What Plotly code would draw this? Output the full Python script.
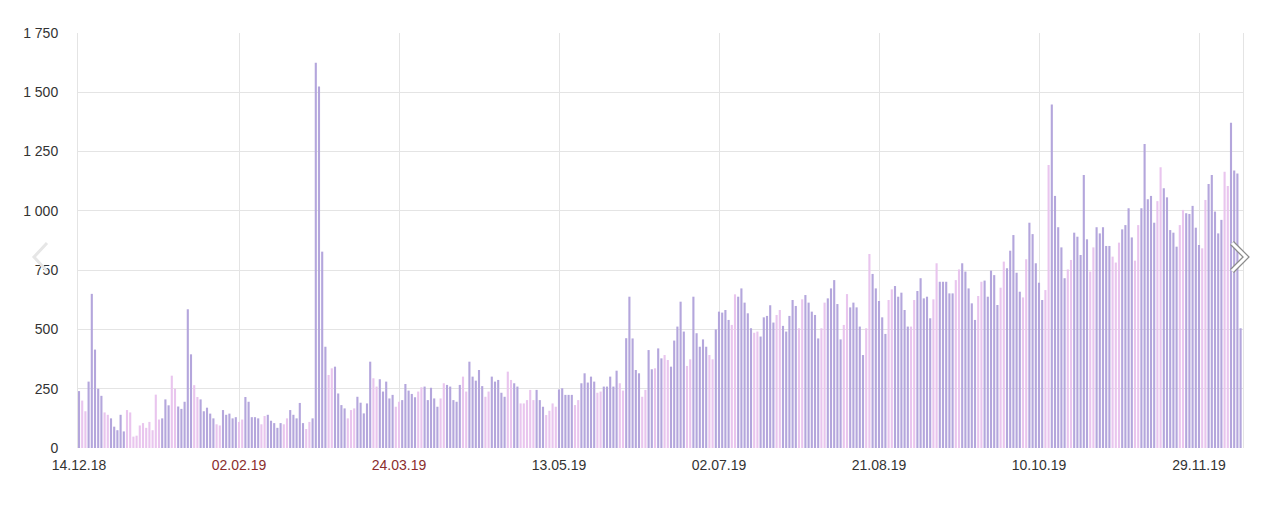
import pandas as pd
import plotly.graph_objects as go

start_date = "2018-12-14"

values = [
    240, 200, 155, 280, 650, 415, 250, 220, 150, 140, 125, 90, 75, 140,
    70, 160, 150, 48, 52, 95, 105, 85, 110, 75,
    225, 120, 125, 205, 180, 305, 250, 175, 165, 195,
    585, 395, 265, 215, 205, 155, 170, 145, 125, 100,
    95, 160, 140, 145, 125, 130, 110, 120, 215, 195,
    130, 130, 125, 100, 135, 140, 115, 105, 85, 105,
    100, 125, 160, 140, 125, 190, 105, 80, 110, 125,
    1625, 1524, 828, 427, 308, 336, 343, 230, 181, 167,
    125, 160, 167, 216, 191, 146, 188, 364, 294, 259,
    290, 238, 280, 209, 224, 174, 195, 202, 270, 242,
    228, 214, 238, 256, 259, 202, 254, 209, 174, 209,
    273, 266, 259, 202, 195, 266, 301, 238, 364, 301,
    284, 329, 261, 216, 238, 301, 280, 287, 233, 216,
    322, 287, 273, 259, 188, 188, 202, 245, 202, 245,
    202, 174, 139, 157, 188, 174, 247, 252, 224, 224,
    224, 181, 202, 273, 315, 276, 301, 280, 233, 238,
    259, 259, 301, 259, 326, 273, 242, 463, 638, 462,
    329, 315, 216, 245, 413, 332, 336, 420, 378, 392,
    371, 343, 453, 512, 617, 491, 346, 374, 638, 484,
    427, 458, 427, 392, 374, 500, 575, 571, 582, 540,
    519, 648, 638, 673, 613, 568, 505, 486, 491, 470,
    551, 557, 602, 529, 561, 582, 515, 491, 557, 624,
    599, 505, 627, 645, 613, 575, 561, 462, 505, 613,
    631, 673, 708, 607, 458, 519, 649, 593, 613, 593,
    512, 392, 505, 818, 734, 673, 620, 551, 481, 624,
    669, 683, 638, 655, 582, 512, 512, 624, 662, 716,
    631, 638, 547, 627, 779, 701, 701, 701, 652, 652,
    708, 753, 779, 744, 673, 610, 540, 641, 701, 706,
    638, 748, 729, 603, 676, 786, 758, 832, 898, 739,
    659, 635, 796, 950, 902, 779, 697, 624, 666, 1193,
    1449, 1063, 931, 846, 716, 753, 793, 908, 891, 814,
    1151, 880, 744, 846, 931, 905, 931, 852, 852, 807,
    782, 866, 922, 940, 1011, 888, 790, 940, 1011, 1282,
    1049, 1063, 950, 1041, 1184, 1095, 1057, 919, 908, 849, 940,
    1004, 990, 987, 1021, 929, 856, 842, 1046, 1113, 1151,
    997, 905, 962, 1165, 1105, 1372, 1170, 1158, 505,
]

holidays = ["2018-12-31", "2019-01-01", "2019-01-02", "2019-01-03", "2019-01-04",
            "2019-01-07", "2019-01-08", "2019-03-08", "2019-05-01", "2019-05-02",
            "2019-05-03", "2019-05-09", "2019-05-10", "2019-06-12", "2019-11-04"]

tick_dates = ["2018-12-14", "2019-02-02", "2019-03-24", "2019-05-13",
              "2019-07-02", "2019-08-21", "2019-10-10", "2019-11-29"]
tick_labels = ["14.12.18", "02.02.19", "24.03.19", "13.05.19",
               "02.07.19", "21.08.19", "10.10.19", "29.11.19"]

y_ticks = [0, 250, 500, 750, 1000, 1250, 1500, 1750]

dates = pd.date_range(start_date, periods=len(values), freq="D")
hol = set(pd.to_datetime(holidays))
PURPLE = "#b4a6dc"
PINK = "#e9c5ee"
colors = [PINK if (d.weekday() >= 5 or d in hol) else PURPLE for d in dates]

tick_text = []
for d, lab in zip(pd.to_datetime(tick_dates), tick_labels):
    c = "#8a2e2e" if d.weekday() >= 5 else "#333333"
    tick_text.append(f"<span style='color:{c}'>{lab}</span>")

day_ms = 86400000
fig = go.Figure(go.Bar(
    x=dates, y=values,
    marker=dict(color=colors, line=dict(width=0)),
    width=0.66 * day_ms,
))

x0 = dates[0] - pd.Timedelta(hours=7.5)
x1 = dates[0] + pd.Timedelta(hours=24 * 363.75)

# page body has an 8px margin, so the figure is offset by 8px
OFF = 8
FW, FH = 1274 - 2 * OFF, 512 - 2 * OFF
L, R, T, B = 78 - OFF, FW - (1243 - OFF), 33 - OFF, FH - (448 - OFF)

fig.update_layout(
    width=FW, height=FH,
    margin=dict(l=L, r=R, t=T, b=B),
    paper_bgcolor="white", plot_bgcolor="white",
    separators=". ",
    showlegend=False,
    font=dict(family="Arial, Liberation Sans, sans-serif", size=14, color="#333333"),
    xaxis=dict(
        type="date", range=[x0, x1],
        tickmode="array", tickvals=pd.to_datetime(tick_dates), ticktext=tick_text,
        showgrid=True, gridcolor="#e4e4e4", gridwidth=1,
        showline=False, zeroline=False, ticks="", ticklabelstandoff=7,
        tickfont=dict(size=14),
    ),
    yaxis=dict(
        range=[0, 1750], tickvals=y_ticks, tickformat=",d",
        showgrid=True, gridcolor="#e4e4e4", gridwidth=1,
        showline=True, mirror=True, linecolor="#e4e4e4", linewidth=1,
        zeroline=False, ticks="", ticklabelstandoff=16,
        tickfont=dict(size=14),
    ),
)

W, H = 1165.0, 415.0
def px(x, y):
    return (x - 78) / W, (448 - y) / H

def chevron(pts, color, width):
    path = "M " + " L ".join(f"{px(x, y)[0]:.5f},{px(x, y)[1]:.5f}" for x, y in pts)
    fig.add_shape(type="path", path=path, xref="paper", yref="paper",
                  line=dict(color=color, width=width), layer="above")

chevron([(47, 243), (34, 257), (47, 271)], "#e6e6e6", 3)
chevron([(1232, 243), (1246, 257), (1232, 271)], "#8c8c8c", 5.5)
chevron([(1232, 243), (1246, 257), (1232, 271)], "#ffffff", 3)

fig.write_html("out.html")
